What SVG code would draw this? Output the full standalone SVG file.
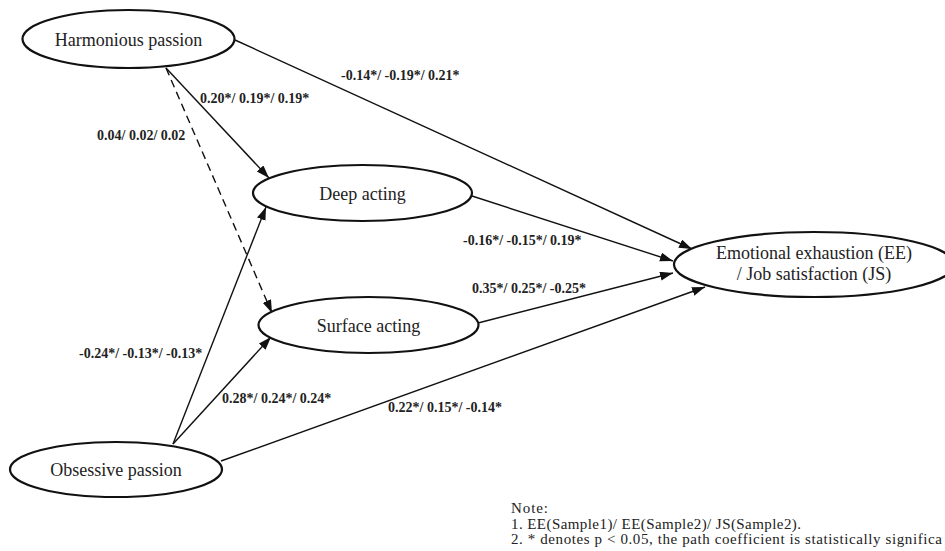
<svg xmlns="http://www.w3.org/2000/svg" width="945" height="551" viewBox="0 0 945 551">
<defs>
<marker id="arr" markerUnits="userSpaceOnUse" markerWidth="14" markerHeight="10" refX="13" refY="4.5" orient="auto">
<path d="M0,0 L13,4.5 L0,9 Z" fill="#111"/>
</marker>
<style>
.node ellipse{fill:#fff;stroke:#111;stroke-width:2.2}
.node text{font-family:"Liberation Serif","Times New Roman",serif;font-size:18px;fill:#222;text-anchor:middle}
.conn line{stroke:#111;stroke-width:1.4;fill:none}
.dash{stroke-dasharray:8,5}
.lbl{font-family:"Liberation Serif","Times New Roman",serif;font-size:14px;font-weight:bold;fill:#222}
.note{font-family:"Liberation Serif","Times New Roman",serif;font-size:15px;fill:#222}
</style>
</defs>
<rect width="945" height="551" fill="#fff"/>
<g id="connectors" class="conn">
<line x1="235" y1="40" x2="692" y2="249" marker-end="url(#arr)"/>
<line x1="166" y1="68" x2="269" y2="178" marker-end="url(#arr)"/>
<line class="dash" x1="166" y1="68" x2="272" y2="313" marker-end="url(#arr)"/>
<line x1="173" y1="444" x2="266" y2="207" marker-end="url(#arr)"/>
<line x1="173" y1="444" x2="271" y2="337" marker-end="url(#arr)"/>
<line x1="221" y1="461" x2="705" y2="287" marker-end="url(#arr)"/>
<line x1="472" y1="196" x2="673" y2="261" marker-end="url(#arr)"/>
<line x1="478" y1="323" x2="673" y2="273" marker-end="url(#arr)"/>
</g>
<g id="node-hp" class="node">
<ellipse cx="128.5" cy="39" rx="106" ry="29"/>
<text x="128.5" y="46">Harmonious passion</text>
</g>
<g id="node-deep" class="node">
<ellipse cx="362.5" cy="193" rx="109.5" ry="28"/>
<text x="362.5" y="200">Deep acting</text>
</g>
<g id="node-surface" class="node">
<ellipse cx="368.5" cy="325" rx="110" ry="28"/>
<text x="368.5" y="332">Surface acting</text>
</g>
<g id="node-op" class="node">
<ellipse cx="116" cy="469.5" rx="106" ry="27.5"/>
<text x="116" y="476">Obsessive passion</text>
</g>
<g id="node-ee" class="node">
<ellipse cx="814" cy="264.5" rx="140" ry="32.5"/>
<text x="814" y="259">Emotional exhaustion (EE)</text>
<text x="814" y="280">/ Job satisfaction (JS)</text>
</g>
<g id="labels">
<text class="lbl" x="341" y="80">-0.14*/ -0.19*/ 0.21*</text>
<text class="lbl" x="200" y="103">0.20*/ 0.19*/ 0.19*</text>
<text class="lbl" x="97" y="140">0.04/ 0.02/ 0.02</text>
<text class="lbl" x="463" y="245">-0.16*/ -0.15*/ 0.19*</text>
<text class="lbl" x="472" y="293">0.35*/ 0.25*/ -0.25*</text>
<text class="lbl" x="79" y="358">-0.24*/ -0.13*/ -0.13*</text>
<text class="lbl" x="222" y="403">0.28*/ 0.24*/ 0.24*</text>
<text class="lbl" x="388" y="412">0.22*/ 0.15*/ -0.14*</text>
</g>
<g id="note">
<text class="note" x="511" y="513" textLength="37" lengthAdjust="spacing">Note:</text>
<text class="note" x="511" y="528.5" textLength="290" lengthAdjust="spacing">1. EE(Sample1)/ EE(Sample2)/ JS(Sample2).</text>
<text class="note" x="511" y="544" textLength="431" lengthAdjust="spacing">2. * denotes p &lt; 0.05, the path coefficient is statistically significa</text>
</g>
</svg>
